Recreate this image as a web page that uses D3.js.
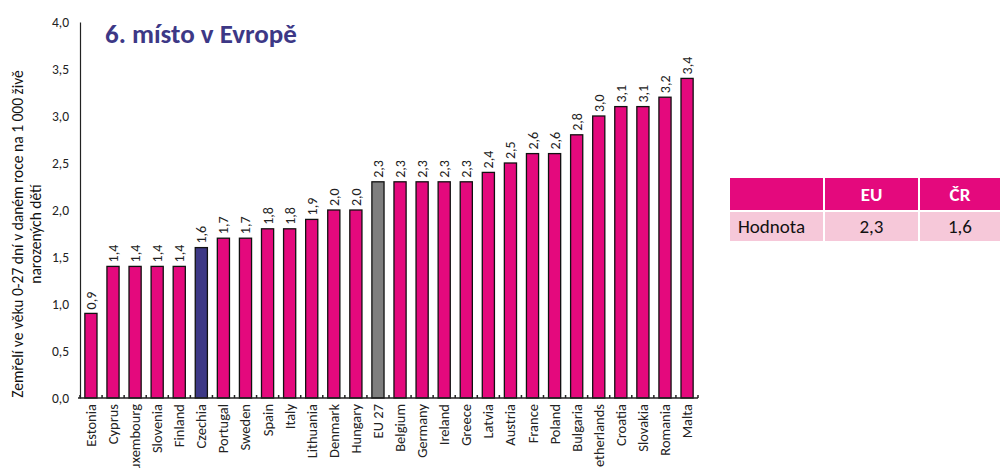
<!DOCTYPE html>
<html>
<head>
<meta charset="utf-8">
<script src="https://cdn.jsdelivr.net/npm/d3@7"></script>
<style>
  body { margin: 0; background: #fff; font-family: Carlito, "Open Sans", "DejaVu Sans", sans-serif; }
  svg { display: block; }
</style>
</head>
<body>
<svg id="chart" width="1000" height="468"></svg>
<script>
const countries = ["Estonia", "Cyprus", "Luxembourg", "Slovenia", "Finland", "Czechia", "Portugal", "Sweden",
    "Spain", "Italy", "Lithuania", "Denmark", "Hungary", "EU 27", "Belgium", "Germany", "Ireland", "Greece",
    "Latvia", "Austria", "France", "Poland", "Bulgaria", "Netherlands", "Croatia", "Slovakia", "Romania", "Malta"];
const values = [0.9, 1.4, 1.4, 1.4, 1.4, 1.6, 1.7, 1.7, 1.8, 1.8, 1.9, 2.0, 2.0, 2.3, 2.3, 2.3, 2.3, 2.3,
    2.4, 2.5, 2.6, 2.6, 2.8, 3.0, 3.1, 3.1, 3.2, 3.4];
const yTicks = [0, 0.5, 1, 1.5, 2, 2.5, 3, 3.5, 4];
const tableHeader = ["", "EU", "ČR"];
const tableRow = ["Hodnota", "2,3", "1,6"];

const magenta = "#e4097d";
const fmt = v => d3.format(".1f")(v).replace(".", ",");

const svg = d3.select("#chart");
const font = "Carlito, 'Open Sans', sans-serif";

// Scales
const x = d3.scaleBand().domain(countries).range([80, 698]).paddingInner(0.45).paddingOuter(0.22);
const y = d3.scaleLinear().domain([0, 4]).range([398, 22]);

// Y axis
const yAxis = svg.append("g")
    .attr("transform", "translate(80,0)")
    .call(d3.axisLeft(y).tickValues(yTicks).tickSize(0).tickPadding(11).tickFormat(fmt));
yAxis.select(".domain").attr("stroke", "#222").attr("stroke-width", 1.2);
yAxis.selectAll("text").style("font-family", font).style("font-size", "13.5px").attr("fill", "#222");

// Y label
const yLabel = svg.append("text")
    .attr("transform", "translate(23,234) rotate(-90)")
    .attr("text-anchor", "middle")
    .style("font-family", font)
    .style("font-size", "15.5px")
    .attr("fill", "#111");
yLabel.append("tspan").attr("x", 0).attr("dy", 0).text("Zemřelí ve věku 0-27 dní v daném roce na 1 000 živě");
yLabel.append("tspan").attr("x", 0).attr("dy", 18).text("narozených dětí");

// Bars
svg.selectAll("rect.bar")
    .data(countries)
    .enter()
    .append("rect")
    .attr("class", "bar")
    .attr("x", d => x(d))
    .attr("width", x.bandwidth())
    .attr("y", (d, i) => y(values[i]))
    .attr("height", (d, i) => y(0) - y(values[i]))
    .attr("fill", d => d === "Czechia" ? "#3d3886" : d === "EU 27" ? "#7f7f7f" : magenta)
    .attr("stroke", "#111")
    .attr("stroke-width", 1.3);

// Value labels
svg.selectAll("text.val")
    .data(countries)
    .enter()
    .append("text")
    .attr("class", "val")
    .attr("transform", (d, i) => `translate(${x(d) + x.bandwidth() / 2 + 5},${y(values[i]) - 4}) rotate(-90)`)
    .attr("text-anchor", "start")
    .style("font-family", font)
    .style("font-size", "14px")
    .attr("fill", "#222")
    .text((d, i) => fmt(values[i]));

// X axis
const xAxis = svg.append("g")
    .attr("transform", "translate(0,398)");
xAxis.append("line")
    .attr("x1", 78).attr("x2", 698)
    .attr("stroke", "#222").attr("stroke-width", 1.5);
xAxis.selectAll("line.tick")
    .data(d3.range(countries.length + 1))
    .enter()
    .append("line")
    .attr("class", "tick")
    .attr("x1", i => 80 + i * (618 / countries.length))
    .attr("x2", i => 80 + i * (618 / countries.length))
    .attr("y1", 0).attr("y2", -3)
    .attr("stroke", "#222").attr("stroke-width", 1.5);
xAxis.selectAll("text")
    .data(countries)
    .enter()
    .append("text")
    .attr("transform", d => `translate(${x(d) + x.bandwidth() / 2 + 5},6) rotate(-90)`)
    .attr("text-anchor", "end")
    .style("font-family", font)
    .style("font-size", "14.5px")
    .attr("fill", "#222")
    .text(d => d);

// Title
svg.append("text")
    .attr("x", 105).attr("y", 43)
    .style("font-family", font)
    .style("font-size", "27px")
    .style("font-weight", "bold")
    .attr("fill", "#3d3886")
    .text("6. místo v Evropě");

// Table
const colX = [730, 825, 920];
const colW = [93, 93, 80];
tableHeader.forEach((t, i) => {
    svg.append("rect").attr("x", colX[i]).attr("y", 178).attr("width", colW[i]).attr("height", 32).attr("fill", magenta);
    svg.append("text")
        .attr("x", colX[i] + colW[i] / 2).attr("y", 201)
        .attr("text-anchor", "middle")
        .style("font-family", font).style("font-size", "19px").style("font-weight", "bold")
        .attr("fill", "#fff").text(t);
});
tableRow.forEach((t, i) => {
    svg.append("rect").attr("x", colX[i]).attr("y", 212).attr("width", colW[i]).attr("height", 29).attr("fill", "#f6c8d9");
    svg.append("text")
        .attr("x", i === 0 ? colX[i] + 8 : colX[i] + colW[i] / 2).attr("y", 233)
        .attr("text-anchor", i === 0 ? "start" : "middle")
        .style("font-family", font).style("font-size", "19px")
        .attr("fill", "#111").text(t);
});
</script>
</body>
</html>
